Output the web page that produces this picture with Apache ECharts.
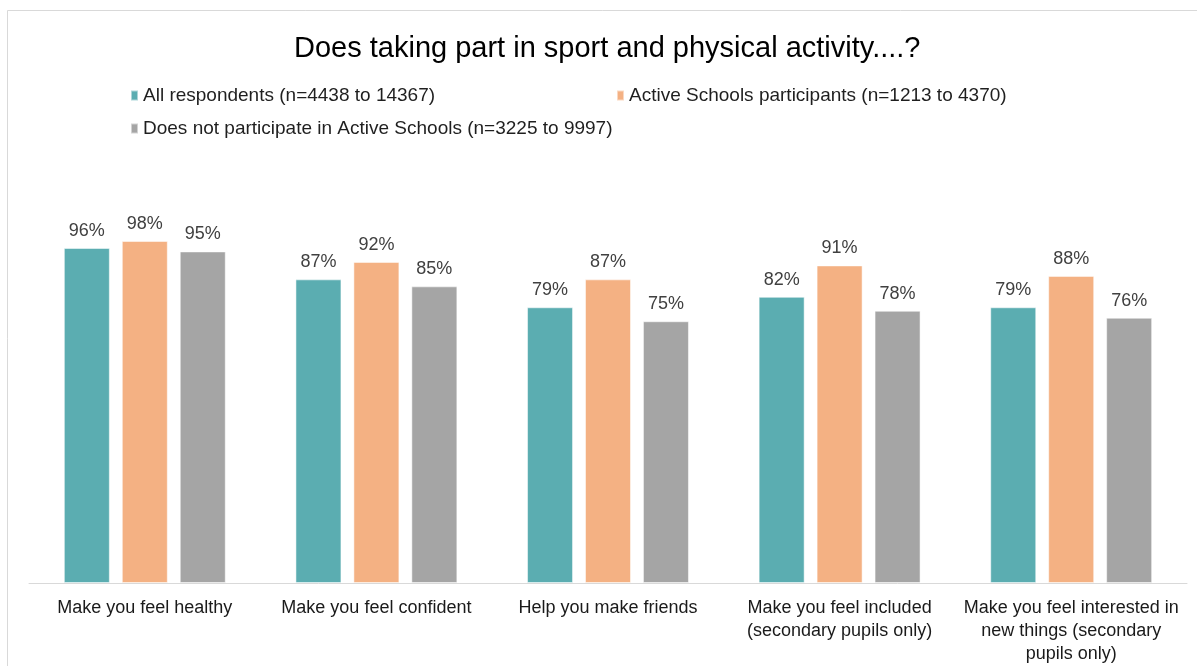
<!DOCTYPE html>
<html>
<head>
<meta charset="utf-8">
<script src="https://cdn.jsdelivr.net/npm/echarts@6/dist/echarts.min.js"></script>
<style>
html,body{margin:0;padding:0;background:#fff;}
#chart{width:1197px;height:666px;}
</style>
</head>
<body>
<div id="chart"></div>
<script>
// Survey statements (x axis)
const categories = [
  'Make you feel healthy',
  'Make you feel confident',
  'Help you make friends',
  'Make you feel included\n(secondary pupils only)',
  'Make you feel interested in\nnew things (secondary\npupils only)'
];
// Series names
const seriesNames = [
  'All respondents (n=4438 to 14367)',
  'Active Schools participants (n=1213 to 4370)',
  'Does not participate in Active Schools (n=3225 to 9997)'
];
// Percentage agreeing, per group
const allRespondents = [96, 87, 79, 82, 79];
const activeSchools = [98, 92, 87, 91, 88];
const notActiveSchools = [95, 85, 75, 78, 76];

const colors = ['#5BADB1', '#F4B183', '#A5A5A5'];
const values = [allRespondents, activeSchools, notActiveSchools];
const FONT = 'Liberation Sans, Arial, sans-serif';

const chart = echarts.init(document.getElementById('chart'), null, {renderer: 'canvas'});

const legendCommon = {
  icon: 'rect',
  itemWidth: 7,
  itemHeight: 10,
  itemGap: 4,
  textStyle: {fontFamily: FONT, fontSize: 19, color: '#1f1f1f'}
};

chart.setOption({
  backgroundColor: '#fff',
  animation: false,
  graphic: [{
    type: 'rect',
    shape: {x: 7.5, y: 10.5, width: 1400, height: 900},
    style: {fill: 'none', stroke: '#d9d9d9', lineWidth: 1},
    silent: true
  }],
  title: {
    text: 'Does taking part in sport and physical activity....?',
    left: 289,
    top: 29,
    textStyle: {fontFamily: FONT, fontSize: 29, fontWeight: 'normal', color: '#000'}
  },
  legend: [
    Object.assign({data: [seriesNames[0]], left: 125, top: 81}, legendCommon),
    Object.assign({data: [seriesNames[1]], left: 611, top: 81}, legendCommon),
    Object.assign({data: [seriesNames[2]], left: 125, top: 114}, legendCommon)
  ],
  grid: {left: 29, right: 10, top: 234, bottom: 82, containLabel: false},
  xAxis: {
    type: 'category',
    data: categories,
    axisLine: {lineStyle: {color: '#d9d9d9', width: 1}},
    axisTick: {show: false},
    axisLabel: {
      interval: 0,
      margin: 14,
      fontFamily: FONT,
      fontSize: 18,
      lineHeight: 23,
      color: '#1a1a1a'
    }
  },
  yAxis: {
    type: 'value',
    min: 0,
    max: 100,
    show: false,
    splitLine: {show: false}
  },
  series: values.map((v, i) => ({
    name: seriesNames[i],
    type: 'bar',
    data: v,
    barWidth: 46,
    barGap: '26%',
    itemStyle: {color: colors[i], borderColor: 'rgba(255,255,255,0.5)', borderWidth: 1},
    label: {
      show: true,
      position: 'top',
      distance: 8,
      formatter: '{c}%',
      fontFamily: FONT,
      fontSize: 18,
      color: '#404040'
    }
  }))
});
</script>
</body>
</html>
